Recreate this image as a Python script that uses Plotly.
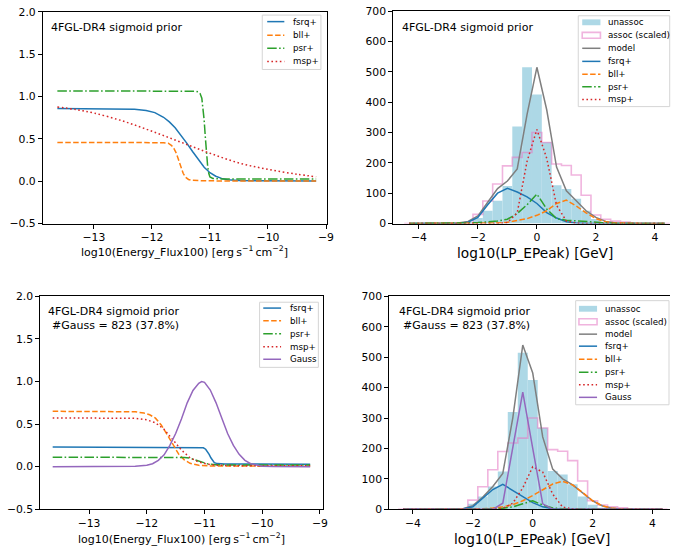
import plotly.graph_objects as go

W, H = 677, 557
FONT = "DejaVu Sans"
C_BLUE, C_ORANGE, C_GREEN, C_RED, C_PURPLE, C_GRAY = "#1f77b4", "#ff7f0e", "#2ca02c", "#d62728", "#9467bd", "#7f7f7f"
C_BAR = "#add8e6"
C_PINK = "rgba(227,119,194,0.55)"

# ---------------- data: left panels (priors vs log10 energy flux) ----------------
TL_X_FSRQ = [-13.63, -12.6, -12.3, -12.1, -11.95, -11.8, -11.7, -11.6, -11.5, -11.4, -11.3, -11.2, -11.1, -11.0, -10.9, -10.8, -10.7, -10.5, -10.0, -9.17]
TL_Y_FSRQ = [0.857, 0.855, 0.85, 0.835, 0.81, 0.755, 0.70, 0.63, 0.545, 0.45, 0.35, 0.25, 0.165, 0.1, 0.058, 0.033, 0.018, 0.007, 0.003, 0.001]
TL_X_BLL = [-13.63, -12.0, -11.8, -11.72, -11.66, -11.62, -11.58, -11.54, -11.5, -11.46, -11.42, -11.37, -11.3, -11.15, -10.8, -9.17]
TL_Y_BLL = [0.457, 0.457, 0.455, 0.448, 0.42, 0.385, 0.33, 0.25, 0.165, 0.09, 0.045, 0.02, 0.01, 0.005, 0.003, 0.002]
TL_X_PSR = [-13.63, -11.5, -11.25, -11.2, -11.17, -11.14, -11.12, -11.1, -11.08, -11.06, -11.04, -11.02, -11.0, -10.95, -10.8, -9.17]
TL_Y_PSR = [1.065, 1.065, 1.063, 1.055, 1.035, 0.98, 0.88, 0.72, 0.52, 0.33, 0.18, 0.09, 0.05, 0.032, 0.027, 0.025]
TL_X_MSP = [-13.63, -13.3, -13.0, -12.5, -12.0, -11.5, -11.0, -10.5, -10.0, -9.5, -9.17]
TL_Y_MSP = [0.877, 0.845, 0.805, 0.71, 0.59, 0.46, 0.33, 0.215, 0.14, 0.082, 0.052]

BL_X_FSRQ = [-13.63, -11.15, -11.06, -11.02, -10.98, -10.95, -10.92, -10.89, -10.86, -10.83, -10.78, -10.65, -9.17]
BL_Y_FSRQ = [0.23, 0.23, 0.228, 0.222, 0.205, 0.18, 0.145, 0.105, 0.07, 0.048, 0.036, 0.031, 0.03]
BL_X_BLL = [-13.63, -12.4, -12.2, -12.05, -11.95, -11.85, -11.75, -11.65, -11.55, -11.45, -11.35, -11.25, -11.1, -10.9, -9.17]
BL_Y_BLL = [0.65, 0.65, 0.645, 0.63, 0.61, 0.57, 0.49, 0.38, 0.26, 0.15, 0.08, 0.04, 0.016, 0.008, 0.005]
BL_X_PSR = [-13.63, -11.5, -11.35, -11.25, -11.15, -11.05, -10.95, -10.8, -10.6, -9.17]
BL_Y_PSR = [0.111, 0.111, 0.108, 0.1, 0.08, 0.052, 0.034, 0.024, 0.021, 0.02]
BL_X_MSP = [-13.63, -12.4, -12.2, -12.0, -11.85, -11.7, -11.55, -11.4, -11.25, -11.1, -10.95, -10.8, -10.5, -9.17]
BL_Y_MSP = [0.573, 0.573, 0.568, 0.55, 0.515, 0.44, 0.32, 0.195, 0.105, 0.055, 0.03, 0.018, 0.012, 0.01]
BL_X_GAUSS = [-13.63, -12.4, -12.2, -12.0, -11.9, -11.8, -11.7, -11.6, -11.5, -11.4, -11.3, -11.2, -11.1, -11.05, -11.0,
              -10.9, -10.8, -10.7, -10.6, -10.5, -10.4, -10.3, -10.2, -10.0, -9.8, -9.17]
BL_Y_GAUSS = [0.0, 0.001, 0.005, 0.016, 0.035, 0.075, 0.14, 0.25, 0.39, 0.56, 0.75, 0.895, 0.98, 1.0, 0.99,
              0.9, 0.75, 0.57, 0.39, 0.25, 0.145, 0.075, 0.035, 0.006, 0.001, 0.0]

# ---------------- data: right panels (histograms of log10 LP_EPeak) ----------------
BIN_W = 1 / 3
BIN_CENTERS = [-4.333, -4.0, -3.667, -3.333, -3.0, -2.667, -2.333, -2.0, -1.667, -1.333, -1.0, -0.667, -0.333, 0.0,
               0.333, 0.667, 1.0, 1.333, 1.667, 2.0, 2.333, 2.667, 3.0, 3.333, 3.667, 4.0, 4.333]
UNASSOC = [0, 0, 0, 0, 0, 1, 4, 18, 42, 75, 124, 320, 515, 425, 268, 126, 114, 82, 42, 15, 5, 2, 1, 0, 0, 0, 0]
ASSOC_SCALED = [0, 0, 0, 0, 0, 0, 0, 30, 74, 130, 190, 218, 234, 300, 267, 196, 191, 160, 93, 28, 14, 8, 5, 0, 0, 0, 0]

TR_MODEL = [0, 0, 0, 0, 0, 2, 7, 25, 70, 115, 140, 180, 360, 515, 375, 186, 108, 75, 42, 20, 7, 2, 0.5, 0, 0, 0, 0]
TR_FSRQ = [0, 0, 0, 0, 0, 0.5, 4, 20, 62, 100, 116, 104, 88, 66, 36, 18, 6, 2, 0.5, 0, 0, 0, 0, 0, 0, 0, 0]
TR_BLL = [0, 0, 0, 0, 0, 0, 0, 0.5, 1, 2, 4, 9, 16, 27, 42, 66, 77, 58, 35, 16, 6, 2, 0.5, 0, 0, 0, 0]
TR_PSR = [0, 0, 0, 0, 0, 1, 2, 3, 5, 8, 14, 33, 62, 97, 48, 16, 11, 9, 6, 3, 1, 0, 0, 0, 0, 0, 0]
TR_MSP = [0, 0, 0, 0, 0, 0, 0, 0, 0, 0, 3, 35, 205, 310, 215, 60, 8, 1, 0, 0, 0, 0, 0, 0, 0, 0, 0]

BR_MODEL = [0, 0, 0, 0, 0, 0.5, 2, 12, 40, 75, 118, 300, 540, 448, 238, 132, 100, 80, 55, 28, 11, 3, 1, 0, 0, 0, 0]
BR_FSRQ = [0, 0, 0, 0, 0, 0.2, 1, 8, 35, 65, 82, 62, 42, 22, 8, 2, 0.5, 0, 0, 0, 0, 0, 0, 0, 0, 0, 0]
BR_BLL = [0, 0, 0, 0, 0, 0, 0.5, 1, 2, 4, 8, 15, 28, 45, 65, 83, 92, 80, 55, 28, 11, 3, 1, 0, 0, 0, 0]
BR_PSR = [0, 0, 0, 0, 0, 0, 0, 0.5, 1, 1.5, 3, 8, 18, 28, 14, 4, 2, 1, 0.5, 0, 0, 0, 0, 0, 0, 0, 0]
BR_MSP = [0, 0, 0, 0, 0, 0, 0, 0, 0, 0, 3, 20, 70, 140, 122, 50, 7, 1, 0, 0, 0, 0, 0, 0, 0, 0, 0]
BR_GAUSS = [0, 0, 0, 0, 0, 0, 0, 0, 0, 0, 20, 200, 385, 200, 18, 0, 0, 0, 0, 0, 0, 0, 0, 0, 0, 0, 0]

PANEL_TITLE = "4FGL-DR4 sigmoid prior"
GAUSS_NOTE = "#Gauss = 823 (37.8%)"
XLABEL_LEFT = "log10(Energy_Flux100) [erg\u2009s<sup>\u22121</sup>\u2009cm<sup>\u22122</sup>]"
XLABEL_RIGHT = "log10(LP_EPeak) [GeV]"
LEFT_YTICKS = [-0.5, 0.0, 0.5, 1.0, 1.5, 2.0]
LEFT_XTICKS = [-13, -12, -11, -10, -9]
RIGHT_XTICKS = [-4, -2, 0, 2, 4]
RIGHT_YTICKS = [0, 100, 200, 300, 400, 500, 600, 700]

# ---------------- styles ----------------
LW = 1.5
STY = {
    "fsrq+": dict(color=C_BLUE, width=LW, dash="solid"),
    "bll+": dict(color=C_ORANGE, width=LW, dash="5.5px,2.4px"),
    "psr+": dict(color=C_GREEN, width=LW, dash="9.5px,2.4px,1.6px,2.4px"),
    "msp+": dict(color=C_RED, width=LW, dash="1.6px,2.6px"),
    "Gauss": dict(color=C_PURPLE, width=LW, dash="solid"),
    "model": dict(color=C_GRAY, width=LW, dash="solid"),
}

# panel geometry in pixels: (left, right, top, bottom)
GEOM = {
    "tl": (43.3, 330.0, 6.0, 222.7),
    "tr": (397.3, 677.0, 5.3, 222.7),
    "bl": (40.7, 326.0, 297.3, 515.3),
    "br": (393.3, 677.0, 297.3, 515.3),
}
XR = {"tl": [-13.88, -8.99], "tr": [-4.872, 4.513], "bl": [-13.845, -8.954], "br": [-4.793, 4.585]}
AXN = {"tl": "", "tr": "2", "bl": "3", "br": "4"}


def fx(p):
    return p / W


def fy(p):
    return 1 - p / H


def minus(v, fmt):
    s = fmt.format(v)
    return s.replace("-", "\u2212")


fig = go.Figure()


def add_line(panel, x, y, name, shape="linear"):
    n = AXN[panel]
    st = STY[name]
    fig.add_trace(go.Scatter(x=x, y=y, mode="lines", name=name, xaxis="x" + n, yaxis="y" + n,
                             line=dict(color=st["color"], width=st["width"], dash=st["dash"], shape=shape),
                             showlegend=False, hoverinfo="skip"))


def add_hist(panel):
    n = AXN[panel]
    fig.add_trace(go.Bar(x=BIN_CENTERS, y=UNASSOC, width=BIN_W, name="unassoc", xaxis="x" + n, yaxis="y" + n,
                         marker=dict(color=C_BAR, line=dict(width=0)), showlegend=False, hoverinfo="skip"))
    # step outline of the associated histogram
    xs, ys = [], []
    for c, h in zip(BIN_CENTERS, ASSOC_SCALED):
        xs.append(c - BIN_W / 2)
        ys.append(h)
    xs = [xs[0]] + xs + [BIN_CENTERS[-1] + BIN_W / 2]
    ys = [0] + ys + [0]
    fig.add_trace(go.Scatter(x=xs, y=ys, mode="lines", name="assoc (scaled)", xaxis="x" + n, yaxis="y" + n,
                             line=dict(color=C_PINK, width=1.6, shape="hv"), showlegend=False, hoverinfo="skip"))


# top-left
add_line("tl", TL_X_FSRQ, TL_Y_FSRQ, "fsrq+")
add_line("tl", TL_X_BLL, TL_Y_BLL, "bll+")
add_line("tl", TL_X_PSR, TL_Y_PSR, "psr+")
add_line("tl", TL_X_MSP, TL_Y_MSP, "msp+", shape="spline")
# bottom-left
add_line("bl", BL_X_FSRQ, BL_Y_FSRQ, "fsrq+")
add_line("bl", BL_X_BLL, BL_Y_BLL, "bll+")
add_line("bl", BL_X_PSR, BL_Y_PSR, "psr+")
add_line("bl", BL_X_MSP, BL_Y_MSP, "msp+")
add_line("bl", BL_X_GAUSS, BL_Y_GAUSS, "Gauss")
# top-right
add_hist("tr")
add_line("tr", BIN_CENTERS, TR_MODEL, "model")
add_line("tr", BIN_CENTERS, TR_FSRQ, "fsrq+")
add_line("tr", BIN_CENTERS, TR_BLL, "bll+")
add_line("tr", BIN_CENTERS, TR_PSR, "psr+")
add_line("tr", BIN_CENTERS, TR_MSP, "msp+")
# bottom-right
add_hist("br")
add_line("br", BIN_CENTERS, BR_MODEL, "model")
add_line("br", BIN_CENTERS, BR_FSRQ, "fsrq+")
add_line("br", BIN_CENTERS, BR_BLL, "bll+")
add_line("br", BIN_CENTERS, BR_PSR, "psr+")
add_line("br", BIN_CENTERS, BR_MSP, "msp+")
add_line("br", BIN_CENTERS, BR_GAUSS, "Gauss")

TICKFONT = dict(family=FONT, size=10.8, color="black")
layout = dict(width=W, height=H, margin=dict(l=0, r=0, t=0, b=0), paper_bgcolor="white", plot_bgcolor="white",
              showlegend=False, barmode="overlay", font=dict(family=FONT, size=10.8, color="black"))

for p in ["tl", "tr", "bl", "br"]:
    l, r, t, b = GEOM[p]
    n = AXN[p]
    left = p in ("tl", "bl")
    xt = LEFT_XTICKS if left else RIGHT_XTICKS
    yt = LEFT_YTICKS if left else RIGHT_YTICKS
    common = dict(showline=True, linecolor="black", linewidth=1, ticks="outside", ticklen=4, tickwidth=1,
                  tickcolor="black", showgrid=False, zeroline=False, tickfont=TICKFONT, fixedrange=True)
    layout["xaxis" + n] = dict(domain=[fx(l), min(1.0, fx(r))], range=XR[p], anchor="y" + n, mirror=True,
                               tickmode="array", tickvals=xt, ticktext=[minus(v, "{:d}") for v in xt], **common)
    layout["yaxis" + n] = dict(domain=[fy(b), fy(t)], range=[-0.5, 2.0] if left else [0, 700], anchor="x" + n,
                               mirror=left, tickmode="array", tickvals=yt,
                               ticktext=[minus(v, "{:.1f}") for v in yt] if left else [str(v) for v in yt], **common)

fig.update_layout(**layout)

ann = []
shapes = []


def text(px_, py_, s, size, anchor="left"):
    ann.append(dict(x=fx(px_), y=fy(py_), xref="paper", yref="paper", text=s, showarrow=False, xanchor=anchor,
                    yanchor="middle", font=dict(family=FONT, size=size, color="black")))


# panel annotations
text(50, 21.7, PANEL_TITLE, 11)
text(404, 21.7, PANEL_TITLE, 11)
text(46, 313.3, PANEL_TITLE, 11)
text(50.5, 326.7, GAUSS_NOTE, 11)
text(400.7, 313.3, PANEL_TITLE, 11)
text(405.3, 326.7, GAUSS_NOTE, 11)
# axis titles
text(186.7, 251, XLABEL_LEFT, 11, "center")
text(540.8, 252.5, XLABEL_RIGHT, 13.7, "center")
text(183.3, 545.5, XLABEL_LEFT, 11, "center")
text(537.5, 545.5, XLABEL_RIGHT, 13.7, "center")

LEG_TL = ["fsrq+", "bll+", "psr+", "msp+"]
LEG_BL = ["fsrq+", "bll+", "psr+", "msp+", "Gauss"]
LEG_TR = ["unassoc", "assoc (scaled)", "model", "fsrq+", "bll+", "psr+", "msp+"]
LEG_BR = ["unassoc", "assoc (scaled)", "model", "fsrq+", "bll+", "psr+", "msp+", "Gauss"]


def legend(box, rows, sx0, sx1, tx, labels):
    x0, y0, x1, y1 = box
    shapes.append(dict(type="rect", xref="paper", yref="paper", x0=fx(x0), x1=fx(x1), y0=fy(y1), y1=fy(y0),
                       line=dict(color="#d5d5d5", width=1), fillcolor="rgba(255,255,255,0.85)", layer="above"))
    for lab, ry in zip(labels, rows):
        if lab == "unassoc":
            shapes.append(dict(type="rect", xref="paper", yref="paper", x0=fx(sx0), x1=fx(sx1), y0=fy(ry + 3),
                               y1=fy(ry - 3), line=dict(width=0), fillcolor=C_BAR, layer="above"))
        elif lab == "assoc (scaled)":
            shapes.append(dict(type="rect", xref="paper", yref="paper", x0=fx(sx0), x1=fx(sx1), y0=fy(ry + 3),
                               y1=fy(ry - 3), line=dict(color=C_PINK, width=1.6), fillcolor="rgba(0,0,0,0)",
                               layer="above"))
        else:
            st = STY[lab]
            shapes.append(dict(type="line", xref="paper", yref="paper", x0=fx(sx0), x1=fx(sx1), y0=fy(ry),
                               y1=fy(ry), line=dict(color=st["color"], width=st["width"], dash=st["dash"]),
                               layer="above"))
        text(tx, ry, lab, 8.7)


legend((265, 9.3, 324.3, 65), [16, 30, 43.3, 56.7], 270, 287.3, 294.3, LEG_TL)
legend((584.3, 10, 676.7, 103), [16.7, 30, 43.3, 56.7, 70, 82.7, 95.7], 588.3, 606.7, 612.7, LEG_TR)
legend((262.3, 303.3, 321.7, 370), [309.3, 322.3, 335.7, 349, 361.7], 266, 284, 290.7, LEG_BL)
legend((581.7, 301.7, 676, 408.3), [310, 323.3, 336, 348.3, 361.7, 375, 387.7, 400.7], 585, 603.3, 609.3, LEG_BR)

fig.update_layout(annotations=ann, shapes=shapes)
fig.write_html("out.html", config={"displayModeBar": False, "staticPlot": True},
               post_script="document.body.style.margin='0px';document.body.style.padding='0px';")
